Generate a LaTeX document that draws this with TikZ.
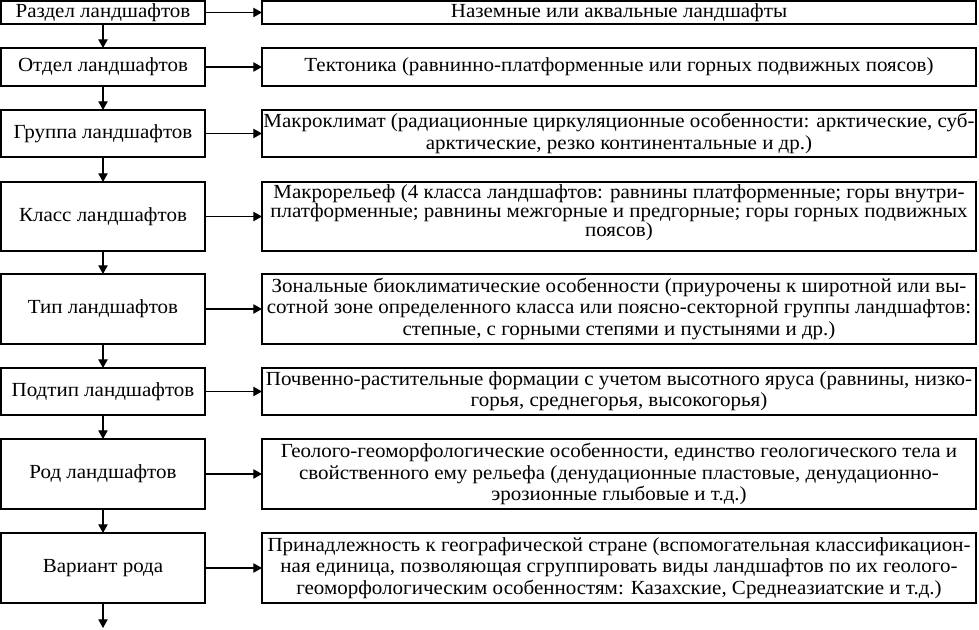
\documentclass[tikz,border=0pt]{standalone}
\usepackage{fontspec}
\setmainfont[FakeStretch=1.05]{Liberation Serif}
\usetikzlibrary{arrows.meta}
\newcommand{\diagfont}{\fontsize{15pt}{16pt}\selectfont}
\tikzset{
 level/.style={draw,line width=.9pt,minimum width=153pt,inner sep=0,outer sep=0,align=center,font=\diagfont},
 feature/.style={draw,line width=.9pt,minimum width=535.5pt,inner sep=0,outer sep=0,align=center,font=\diagfont},
 featuretext/.style={inner sep=0,align=center,font=\fontsize{15pt}{14.5pt}\selectfont},
 link/.style={line width=.9pt,-{Triangle[length=6.5pt,width=7pt]}}
}

\begin{document}
\begin{tikzpicture}[x=.75pt,y=-.75pt]
\path[use as bounding box] (0,0) rectangle (979,630);
% left column: taxonomic levels
\node[level,minimum height=17.25pt] (razdel) at (103,12.5) {Раздел ландшафтов};
\node[level,minimum height=28.5pt] (otdel) at (103,67) {Отдел ландшафтов};
\node[level,minimum height=35.25pt] (gruppa) at (103,133.5) {Группа ландшафтов};
\node[level,minimum height=51.75pt] (klass) at (103,216.5) {Класс ландшафтов};
\node[level,minimum height=52.5pt] (tip) at (103,309) {Тип ландшафтов};
\node[level,minimum height=35.25pt] (podtip) at (103,391.5) {Подтип ландшафтов};
\node[level,minimum height=52.5pt] (rod) at (103,474) {Род ландшафтов};
\node[level,minimum height=52.5pt] (variant) at (103,568) {Вариант рода};
\coordinate (niz) at (103,628);
% right column: criteria
\node[feature,minimum height=17.25pt] (razdelR) at (619,12.5) {Наземные или аквальные ландшафты};
\node[feature,minimum height=28.5pt] (otdelR) at (619,67) {Тектоника (равнинно-платформенные или горных подвижных поясов)};
\node[feature,minimum height=35.25pt] (gruppaR) at (619,133.5) {Макроклимат (радиационные циркуляционные особенности: арктические, суб-\\арктические, резко континентальные и др.)};
\node[feature,minimum height=51.75pt] (klassR) at (619,216.5) {};
\node[featuretext,anchor=north] (klassT) at (619,184) {Макрорельеф (4 класса ландшафтов: равнины платформенные; горы внутри-\\платформенные; равнины межгорные и предгорные; горы горных подвижных\\поясов)};
\node[feature,minimum height=52.5pt] (tipR) at (619,309) {Зональные биоклиматические особенности (приурочены к широтной или вы-\\сотной зоне определенного класса или поясно-секторной группы ландшафтов:\\степные, с горными степями и пустынями и др.)};
\node[feature,minimum height=35.25pt] (podtipR) at (619,391.5) {Почвенно-растительные формации с учетом высотного яруса (равнины, низко-\\горья, среднегорья, высокогорья)};
\node[feature,minimum height=52.5pt] (rodR) at (619,474) {Геолого-геоморфологические особенности, единство геологического тела и\\свойственного ему рельефа (денудационные пластовые, денудационно-\\эрозионные глыбовые и т.д.)};
\node[feature,minimum height=52.5pt] (variantR) at (619,568) {Принадлежность к географической стране (вспомогательная классификацион-\\ная единица, позволяющая сгруппировать виды ландшафтов по их геолого-\\геоморфологическим особенностям: Казахские, Среднеазиатские и т.д.)};
% arrows down the levels
\foreach \a/\b in {razdel/otdel,otdel/gruppa,gruppa/klass,klass/tip,tip/podtip,podtip/rod,rod/variant}
  \draw[link] (\a) -- (\b);
\draw[link] (variant) -- (niz);
% arrows to the criteria
\foreach \a in {razdel,otdel,gruppa,klass,tip,podtip,rod,variant}
  \draw[link] (\a) -- (\a R);
\end{tikzpicture}
\end{document}
